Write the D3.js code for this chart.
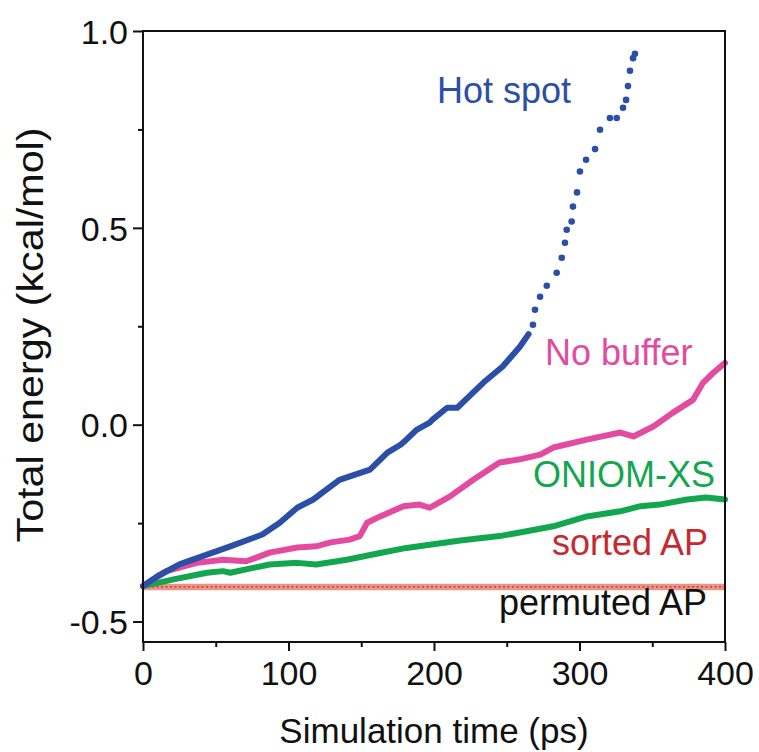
<!DOCTYPE html>
<html><head><meta charset="utf-8">
<script src="https://cdn.jsdelivr.net/npm/d3@7"></script>
<style>
html,body{margin:0;padding:0;background:#fff;}
svg{display:block;font-family:"Liberation Sans",Arial,Helvetica,sans-serif;}
</style></head>
<body>
<svg id="chart" width="759" height="752"></svg>
<script>
// ---- data ----
const hotDenseTime = [0,10,25,40,60,82,94,106,117,135,156,168,177,181,188,197,199,209,216,234,247,259,265];
const hotDenseVal  = [-0.41,-0.385,-0.355,-0.335,-0.309,-0.279,-0.249,-0.211,-0.19,-0.14,-0.114,-0.071,-0.051,-0.038,-0.013,0.005,0.013,0.043,0.043,0.107,0.147,0.198,0.23];
const hotSparseTime = [268,269.4,272.9,277.5,284.3,287.8,290,291.2,294.6,295.5,298.3,300.3,304.5,310.7,314.1,320.9,325.6,329.9,332,333.3,334.7,336.8,338.1];
const hotSparseVal  = [0.254,0.292,0.325,0.353,0.386,0.424,0.462,0.495,0.516,0.554,0.590,0.643,0.673,0.700,0.749,0.779,0.779,0.805,0.825,0.860,0.899,0.931,0.942];

const noBufferTime = [0,16,37,55,71,87,106,119,129,142,149,154,163,179,190,197,211,227,245,259,273,282,305,328,337,351,364,378,385,392,400];
const noBufferVal  = [-0.41,-0.372,-0.351,-0.343,-0.347,-0.325,-0.312,-0.309,-0.299,-0.292,-0.283,-0.249,-0.233,-0.207,-0.203,-0.211,-0.182,-0.140,-0.096,-0.088,-0.076,-0.058,-0.038,-0.020,-0.030,-0.004,0.030,0.063,0.107,0.132,0.157];

const oniomTime = [0,21,44,55,60,87,106,119,140,163,181,197,218,245,259,282,305,328,342,355,374,387,400];
const oniomVal  = [-0.41,-0.393,-0.376,-0.372,-0.376,-0.355,-0.351,-0.355,-0.343,-0.326,-0.313,-0.305,-0.294,-0.283,-0.274,-0.258,-0.233,-0.220,-0.207,-0.203,-0.190,-0.185,-0.190];

const sortedTime = [0,100,200,300,400];
const sortedVal  = [-0.412,-0.412,-0.412,-0.412,-0.412];
const permutedTime = [0,100,200,300,400];
const permutedVal  = [-0.413,-0.413,-0.413,-0.413,-0.413];

const xMajorTicks = [0,100,200,300,400];
const xMinorTicks = [50,150,250,350];
const yMajorTicks = [-0.5,0.0,0.5,1.0];
const yMinorTicks = [-0.25,0.25,0.75];
const yTickLabels = ["-0.5","0.0","0.5","1.0"];

const seriesLabels = ["Hot spot","No buffer","ONIOM-XS","sorted AP","permuted AP"];
const xTitle = "Simulation time (ps)";
const yTitle = "Total energy (kcal/mol)";

// ---- layout ----
const svg = d3.select("#chart");
const L = 143, R = 725, T = 31, B = 642;
const x = d3.scaleLinear().domain([0,400]).range([L,R]);
const y = d3.scaleLinear().domain([-0.552,1.0]).range([B,T]);

const zip = (ts,vs) => ts.map((t,i)=>[t,vs[i]]);
const line = d3.line().x(d=>x(d[0])).y(d=>y(d[1])).curve(d3.curveLinear);

const COL = {hot:"#2b4fa7", pink:"#e24b9f", green:"#12a64f", red:"#c62a2f", band:"#e99486"};

// series
const g = svg.append("g");
g.append("path").attr("d", line(zip(permutedTime,permutedVal)))
  .attr("fill","none").attr("stroke","#8a3a30").attr("stroke-width",4);
g.append("path").attr("d", line(zip(sortedTime,sortedVal)))
  .attr("fill","none").attr("stroke",COL.band).attr("stroke-width",6.5);
g.append("path").attr("d", line(zip(sortedTime,sortedVal)))
  .attr("fill","none").attr("stroke","#c0392b").attr("stroke-width",1.6)
  .attr("stroke-dasharray","2,2.5").attr("opacity",0.8);
g.append("path").attr("d", line(zip(oniomTime,oniomVal)))
  .attr("fill","none").attr("stroke",COL.green).attr("stroke-width",6)
  .attr("stroke-linejoin","round").attr("stroke-linecap","round");
g.append("path").attr("d", line(zip(noBufferTime,noBufferVal)))
  .attr("fill","none").attr("stroke",COL.pink).attr("stroke-width",6)
  .attr("stroke-linejoin","round").attr("stroke-linecap","round");
g.append("path").attr("d", line(zip(hotDenseTime,hotDenseVal)))
  .attr("fill","none").attr("stroke",COL.hot).attr("stroke-width",6)
  .attr("stroke-linejoin","round").attr("stroke-linecap","round");
g.selectAll("circle.hot").data(zip(hotSparseTime,hotSparseVal)).join("circle")
  .attr("class","hot").attr("cx",d=>x(d[0])).attr("cy",d=>y(d[1])).attr("r",3.3)
  .attr("fill",COL.hot);

// ---- axes ----
const axisCol = "#111";
const yAxis = svg.append("g").attr("transform",`translate(${L},0)`)
  .call(d3.axisLeft(y).tickValues(yMajorTicks).tickSize(10).tickPadding(5)
    .tickFormat((d,i)=>yTickLabels[i]));
const yMinor = svg.append("g").attr("transform",`translate(${L},0)`)
  .call(d3.axisLeft(y).tickValues(yMinorTicks).tickSize(5).tickFormat(""));
const xAxis = svg.append("g").attr("transform",`translate(0,${B})`)
  .call(d3.axisBottom(x).tickValues(xMajorTicks).tickSize(9).tickPadding(9)
    .tickFormat(d3.format("d")));
const xMinor = svg.append("g").attr("transform",`translate(0,${B})`)
  .call(d3.axisBottom(x).tickValues(xMinorTicks).tickSize(5).tickFormat(""));

[yAxis,yMinor,xAxis,xMinor].forEach(a=>{
  a.select(".domain").remove();
  a.selectAll(".tick line").attr("stroke",axisCol).attr("stroke-width",2);
  a.selectAll(".tick text").attr("fill","#111").style("font-size","34px")
   .style("font-family",'"Liberation Sans",Arial,sans-serif');
});
yAxis.selectAll(".tick text").attr("dy","0.36em");
xAxis.selectAll(".tick text").attr("dy","0.73em");

svg.append("rect").attr("x",L).attr("y",T).attr("width",R-L).attr("height",B-T)
  .attr("fill","none").attr("stroke",axisCol).attr("stroke-width",2);

// ---- titles ----
svg.append("text").attr("x",(L+R)/2).attr("y",743).attr("text-anchor","middle")
  .style("font-size","35px").attr("fill","#111").text(xTitle);
svg.append("text").attr("transform",`translate(43,${335}) rotate(-90)`)
  .attr("text-anchor","middle").style("font-size","37px").attr("fill","#111")
  .attr("textLength",415).attr("lengthAdjust","spacingAndGlyphs").text(yTitle);

// ---- series labels ----
const labelPos = [
  {x:437, y:103, c:COL.hot},
  {x:545, y:365, c:COL.pink},
  {x:533, y:487, c:COL.green},
  {x:552, y:555, c:COL.red},
  {x:499, y:615, c:"#111"}
];
seriesLabels.forEach((s,i)=>{
  svg.append("text").attr("x",labelPos[i].x).attr("y",labelPos[i].y)
    .style("font-size","36px").attr("fill",labelPos[i].c).text(s);
});
</script>
</body></html>
